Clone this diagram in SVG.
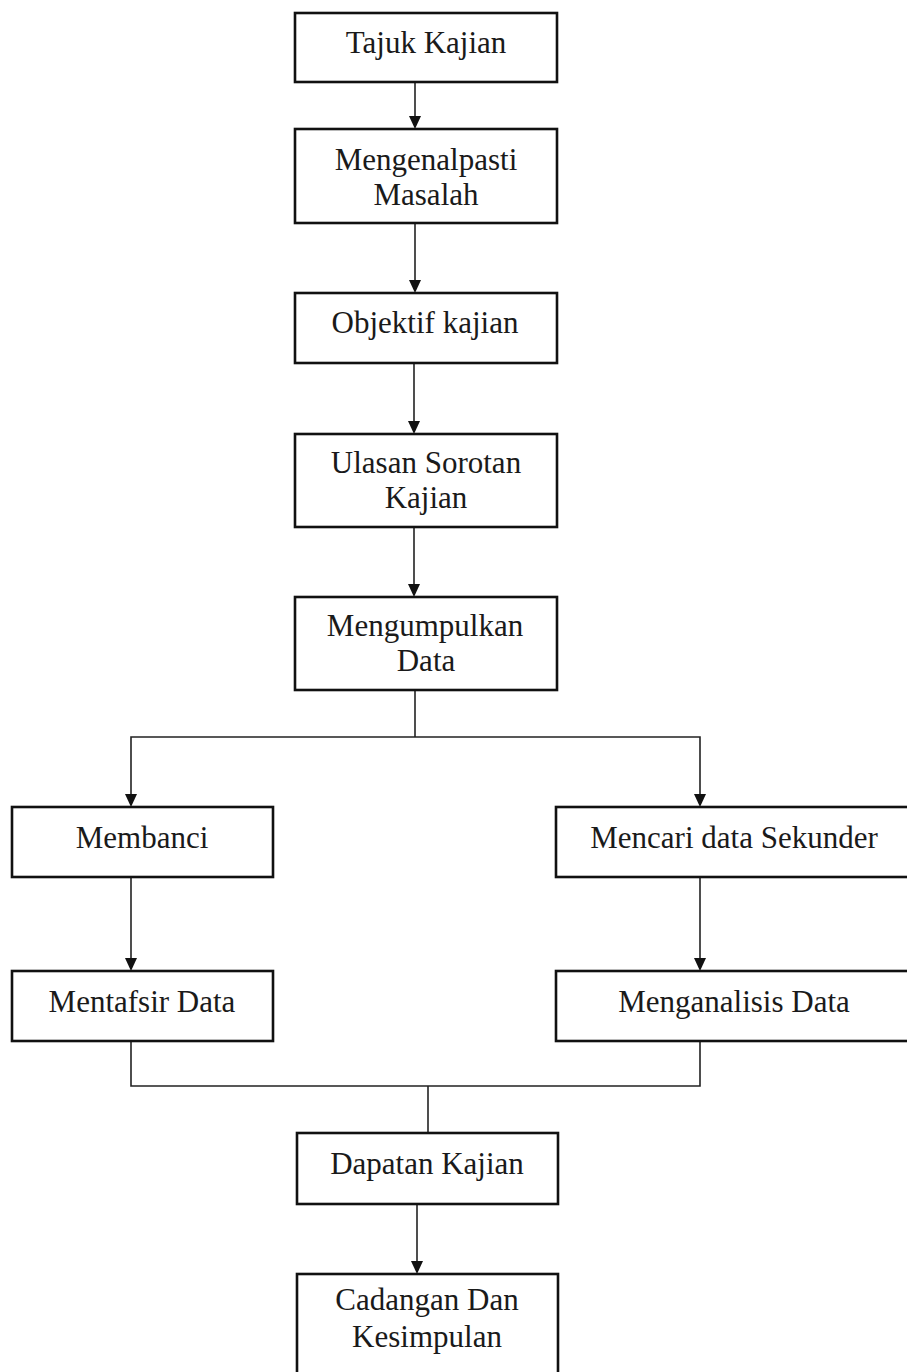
<svg xmlns="http://www.w3.org/2000/svg" width="907" height="1372" viewBox="0 0 907 1372">
<defs>
<marker id="ah" viewBox="0 0 12 13" refX="6" refY="13" markerWidth="12" markerHeight="13" markerUnits="userSpaceOnUse" orient="auto-start-reverse">
<path d="M0,0 L12,0 L6,13 Z" fill="#111"/>
</marker>
<style>
.box{fill:#fff;stroke:#111;stroke-width:2.6}
.t{font-family:"Liberation Serif","Times New Roman",serif;font-size:31px;fill:#1a1a1a;text-anchor:middle}
.c{fill:none;stroke:#222;stroke-width:1.6}
.ca{fill:none;stroke:#222;stroke-width:1.6}
</style>
</defs>
<rect width="907" height="1372" fill="#fff"/>
<g id="connectors">
<line class="c" x1="415" y1="82" x2="415" y2="116"/>
<path d="M409,116 L421,116 L415,129 Z" fill="#111"/>
<line class="c" x1="415" y1="223" x2="415" y2="280"/>
<path d="M409,280 L421,280 L415,293 Z" fill="#111"/>
<line class="c" x1="414" y1="363" x2="414" y2="421"/>
<path d="M408,421 L420,421 L414,434 Z" fill="#111"/>
<line class="c" x1="414" y1="527" x2="414" y2="584"/>
<path d="M408,584 L420,584 L414,597 Z" fill="#111"/>
<polyline class="c" points="415,690 415,737"/>
<polyline class="c" points="131,794 131,737 700,737 700,794"/>
<path d="M125,794 L137,794 L131,807 Z" fill="#111"/>
<path d="M694,794 L706,794 L700,807 Z" fill="#111"/>
<line class="c" x1="131" y1="877" x2="131" y2="958"/>
<path d="M125,958 L137,958 L131,971 Z" fill="#111"/>
<line class="c" x1="700" y1="877" x2="700" y2="958"/>
<path d="M694,958 L706,958 L700,971 Z" fill="#111"/>
<polyline class="c" points="131,1041 131,1086 700,1086 700,1041"/>
<line class="c" x1="428" y1="1086" x2="428" y2="1133"/>
<line class="c" x1="417" y1="1204" x2="417" y2="1261"/>
<path d="M411,1261 L423,1261 L417,1274 Z" fill="#111"/>
</g>
<g id="n1"><rect class="box" x="295" y="13" width="262" height="69"/><text class="t" x="426" y="53">Tajuk Kajian</text></g>
<g id="n2"><rect class="box" x="295" y="129" width="262" height="94"/><text class="t" x="426" y="170">Mengenalpasti</text><text class="t" x="426" y="205">Masalah</text></g>
<g id="n3"><rect class="box" x="295" y="293" width="262" height="70"/><text class="t" x="425" y="333">Objektif kajian</text></g>
<g id="n4"><rect class="box" x="295" y="434" width="262" height="93"/><text class="t" x="426" y="473">Ulasan Sorotan</text><text class="t" x="426" y="508">Kajian</text></g>
<g id="n5"><rect class="box" x="295" y="597" width="262" height="93"/><text class="t" x="425" y="636">Mengumpulkan</text><text class="t" x="426" y="671">Data</text></g>
<g id="n6"><rect class="box" x="12" y="807" width="261" height="70"/><text class="t" x="142" y="848">Membanci</text></g>
<g id="n7"><rect class="box" x="556" y="807" width="360" height="70"/><text class="t" x="734" y="848">Mencari data Sekunder</text></g>
<g id="n8"><rect class="box" x="12" y="971" width="261" height="70"/><text class="t" x="142" y="1012">Mentafsir Data</text></g>
<g id="n9"><rect class="box" x="556" y="971" width="360" height="70"/><text class="t" x="734" y="1012">Menganalisis Data</text></g>
<g id="n10"><rect class="box" x="297" y="1133" width="261" height="71"/><text class="t" x="427" y="1174">Dapatan Kajian</text></g>
<g id="n11"><rect class="box" x="297" y="1274" width="261" height="110"/><text class="t" x="427" y="1310">Cadangan Dan</text><text class="t" x="427" y="1347">Kesimpulan</text></g>
</svg>
